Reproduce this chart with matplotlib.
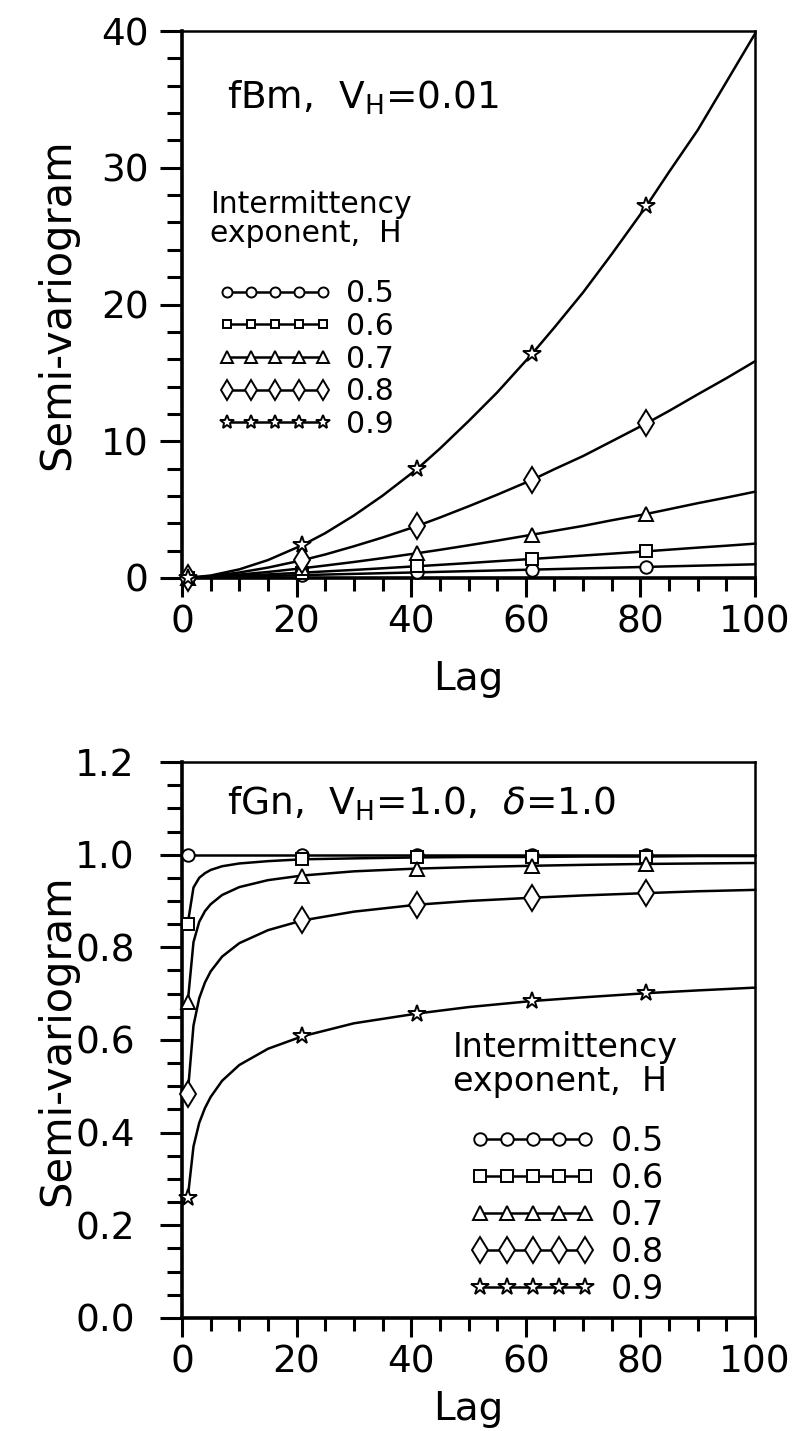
import matplotlib
matplotlib.use("Agg")
import matplotlib.pyplot as plt
from matplotlib.ticker import MultipleLocator

plt.rcParams['font.family'] = ['DejaVu Sans']
plt.rcParams['mathtext.fontset'] = 'dejavusans'

# intermittency exponents and the marker used for each
h_labels = ["0.5", "0.6", "0.7", "0.8", "0.9"]
markers = ["o", "s", "^", "d", "*"]
msizes = [9, 8, 10, 13, 13]

# fBm panel, V_H = 0.01
lag_fbm = [1, 5, 10, 15, 21, 25, 30, 35, 41, 45, 50, 55, 61, 65, 70, 75, 81, 85, 90, 95, 100]
fbm_05 = [0.01, 0.05, 0.10, 0.15, 0.21, 0.25, 0.30, 0.35, 0.41, 0.45, 0.50, 0.55, 0.61, 0.65, 0.70, 0.75, 0.81, 0.85, 0.90, 0.95, 1.00]
fbm_06 = [0.01, 0.07, 0.16, 0.26, 0.39, 0.48, 0.59, 0.71, 0.86, 0.96, 1.09, 1.23, 1.39, 1.50, 1.64, 1.78, 1.95, 2.07, 2.22, 2.36, 2.51]
fbm_07 = [0.01, 0.10, 0.25, 0.44, 0.71, 0.91, 1.17, 1.45, 1.81, 2.06, 2.39, 2.73, 3.16, 3.45, 3.81, 4.22, 4.68, 5.03, 5.47, 5.88, 6.31]
fbm_08 = [0.01, 0.13, 0.40, 0.76, 1.30, 1.72, 2.32, 2.96, 3.80, 4.42, 5.24, 6.09, 7.16, 7.96, 8.92, 10.00, 11.30, 12.22, 13.43, 14.61, 15.85]
fbm_09 = [0.01, 0.18, 0.63, 1.31, 2.40, 3.28, 4.57, 6.02, 7.96, 9.46, 11.47, 13.57, 16.35, 18.33, 20.89, 23.69, 27.18, 29.70, 32.76, 36.28, 39.81]
fbm_marks = [0, 4, 8, 12, 16]   # lags 1, 21, 41, 61, 81

# fGn panel, V_H = 1.0, delta = 1.0
lag_fgn = [1, 2, 3, 4, 5, 7, 10, 15, 21, 30, 41, 50, 61, 70, 81, 90, 100]
fgn_05 = [1.0] * 17
fgn_06 = [0.851, 0.929, 0.950, 0.960, 0.967, 0.975, 0.981, 0.986, 0.990, 0.992, 0.994, 0.995, 0.995, 0.996, 0.996, 0.997, 0.997]
fgn_07 = [0.681, 0.811, 0.855, 0.878, 0.893, 0.913, 0.930, 0.945, 0.955, 0.964, 0.970, 0.973, 0.976, 0.978, 0.980, 0.981, 0.982]
fgn_08 = [0.484, 0.631, 0.690, 0.724, 0.748, 0.780, 0.809, 0.837, 0.858, 0.877, 0.892, 0.900, 0.907, 0.912, 0.917, 0.921, 0.924]
fgn_09 = [0.259, 0.370, 0.421, 0.453, 0.477, 0.512, 0.546, 0.581, 0.608, 0.636, 0.657, 0.671, 0.684, 0.692, 0.701, 0.707, 0.713]
fgn_marks = [0, 8, 10, 12, 14]

fig = plt.figure(figsize=(7.99, 14.31), dpi=100)
ax1 = fig.add_axes([0.2278, 0.5961, 0.7172, 0.3822])
ax2 = fig.add_axes([0.2278, 0.0790, 0.7172, 0.3885])


def style(ax, ymax, ymajor, yminor, yfmt, ypad, xlab_y):
    ax.set_xlim(0, 100)
    ax.set_ylim(0, ymax)
    ax.xaxis.set_major_locator(MultipleLocator(20))
    ax.xaxis.set_minor_locator(MultipleLocator(5))
    ax.yaxis.set_major_locator(MultipleLocator(ymajor))
    ax.yaxis.set_minor_locator(MultipleLocator(yminor))
    ax.yaxis.set_major_formatter(yfmt)
    for s in ["left", "bottom"]:
        ax.spines[s].set_linewidth(2.6)
    for s in ["top", "right"]:
        ax.spines[s].set_linewidth(1.8)
    ax.tick_params(axis="y", which="major", direction="out", length=16, width=2.2, labelsize=27, pad=ypad)
    ax.tick_params(axis="y", which="minor", direction="out", length=11, width=2.2)
    ax.tick_params(axis="x", which="major", direction="out", length=14, width=2.2, labelsize=27, pad=5)
    ax.tick_params(axis="x", which="minor", direction="out", length=9, width=2.2)
    ax.set_xlabel("Lag", fontsize=28)
    ax.xaxis.set_label_coords(0.5, xlab_y)
    ax.set_ylabel("Semi-variogram", fontsize=30)
    ax.yaxis.set_label_coords(-0.181, 0.5)


def draw(ax, lags, series, marks, ms_scale, fs, title_xy, tls, leg_xy, hl, htp, ls):
    lines = []
    for ys, m, ms, lab in zip(series, markers, msizes, h_labels):
        ln, = ax.plot(lags, ys, color="black", lw=1.8, marker=m, ms=ms,
                      markevery=marks, mfc="white", mec="black", mew=1.4,
                      label=lab, clip_on=False, zorder=3)
        lines.append(ln)
    ax.text(title_xy[0], title_xy[1], "Intermittency\nexponent,  H",
            transform=ax.transAxes, fontsize=fs, va="top", ha="left",
            linespacing=tls)
    ax.legend(handles=lines, loc="upper left", bbox_to_anchor=leg_xy,
              frameon=False, fontsize=fs, numpoints=5, markerscale=ms_scale,
              handlelength=hl, handletextpad=htp, labelspacing=ls,
              borderpad=0, borderaxespad=0)


style(ax1, 40, 10, 2, "{x:.0f}", 8, -0.150)
draw(ax1, lag_fbm, [fbm_05, fbm_06, fbm_07, fbm_08, fbm_09], fbm_marks,
     0.8, 21.5, (0.049, 0.709), 1.0, (0.063, 0.546), 3.82, 0.46, 0.12)
ax1.text(0.078, 0.878, r"fBm,  V$_{\rm H}$=0.01", transform=ax1.transAxes,
         fontsize=27, va="center", ha="left")

style(ax2, 1.2, 0.2, 0.05, "{x:.1f}", 18, -0.1295)
draw(ax2, lag_fgn, [fgn_05, fgn_06, fgn_07, fgn_08, fgn_09], fgn_marks,
     1.0, 24, (0.473, 0.516), 1.05, (0.503, 0.347), 3.75, 0.45, 0.12)
ax2.text(0.078, 0.925, r"fGn,  V$_{\rm H}$=1.0,  $\delta$=1.0", transform=ax2.transAxes,
         fontsize=27, va="center", ha="left")

fig.savefig("out.png", dpi=100)
